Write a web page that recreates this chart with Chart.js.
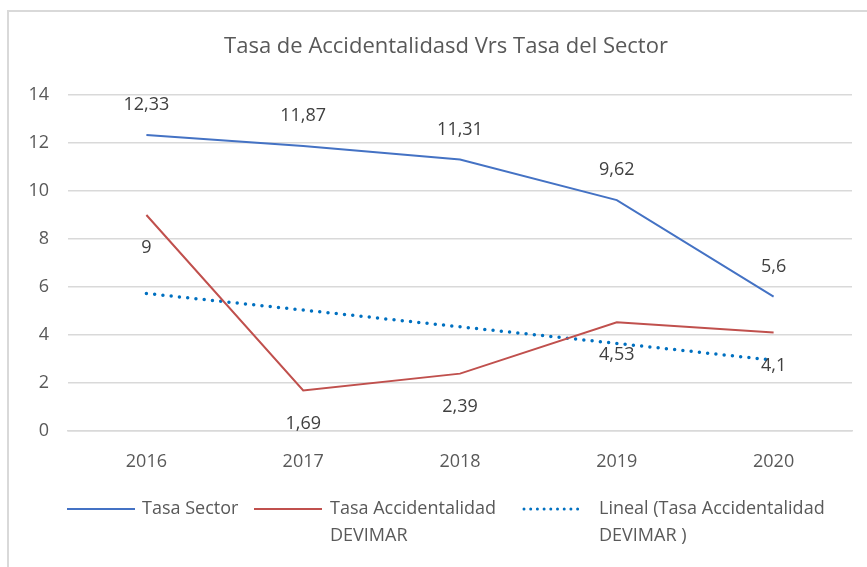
<!DOCTYPE html>
<html>
<head>
<meta charset="utf-8">
<script src="https://cdn.jsdelivr.net/npm/chart.js@4"></script>
<style>
  html, body { margin: 0; padding: 0; background: #fff; }
  #wrap { position: relative; width: 867px; height: 567px; }
</style>
</head>
<body>
<div id="wrap"><canvas id="chart" width="867" height="567"></canvas></div>
<script>
// Chart data
const years = ['2016', '2017', '2018', '2019', '2020'];
const tasaSector = [12.33, 11.87, 11.31, 9.62, 5.6];
const tasaDevimar = [9, 1.69, 2.39, 4.53, 4.1];
// linear trend as drawn in the picture
const linealDevimar = [5.73, 5.04, 4.34, 3.65, 2.95];
const yTicks = [0, 2, 4, 6, 8, 10, 12, 14];

const titleText = 'Tasa de Accidentalidasd Vrs Tasa del Sector';
const fontFam = '"Open Sans", "Noto Sans", sans-serif';

// Labels, title, frame and legend drawn on the canvas
const extras = {
    id: 'extras',
    afterDraw(chart) {
        const c = chart.ctx;
        const xs = chart.scales.x;
        const ys = chart.scales.y;
        c.save();

        // frame
        c.strokeStyle = '#d9d9d9';
        c.lineWidth = 2;
        c.strokeRect(8, 11, 880, 600);

        // title
        c.fillStyle = '#595959';
        c.font = '22px ' + fontFam;
        c.textAlign = 'center';
        c.textBaseline = 'middle';
        c.fillText(titleText, 446, 47);

        // data labels
        c.fillStyle = '#404040';
        c.font = '18px ' + fontFam;
        tasaSector.forEach((v, i) => {
            c.fillText(String(v).replace('.', ','), xs.getPixelForValue(i), ys.getPixelForValue(v) - 30);
        });
        tasaDevimar.forEach((v, i) => {
            c.fillText(String(v).replace('.', ','), xs.getPixelForValue(i), ys.getPixelForValue(v) + 33);
        });

        // legend
        c.textAlign = 'left';
        c.fillStyle = '#595959';
        c.font = '18px ' + fontFam;
        const ly = 509;
        c.lineWidth = 2;
        c.strokeStyle = '#4472c4';
        c.beginPath(); c.moveTo(67, ly); c.lineTo(135, ly); c.stroke();
        c.fillText('Tasa Sector', 142, ly);
        c.strokeStyle = '#c0504d';
        c.beginPath(); c.moveTo(254, ly); c.lineTo(322, ly); c.stroke();
        c.fillText('Tasa Accidentalidad', 330, ly);
        c.fillText('DEVIMAR', 330, ly + 27);
        c.strokeStyle = '#0070c0';
        c.lineWidth = 3;
        c.lineCap = 'round';
        c.setLineDash([0, 6.7]);
        c.beginPath(); c.moveTo(524, ly); c.lineTo(578, ly); c.stroke();
        c.setLineDash([]);
        c.fillText('Lineal (Tasa Accidentalidad', 599, ly);
        c.fillText('DEVIMAR )', 599, ly + 27);
        c.restore();
    }
};

const ctx = document.getElementById('chart').getContext('2d');
new Chart(ctx, {
    type: 'line',
    data: {
        labels: years,
        datasets: [
            {
                label: 'Tasa Sector',
                data: tasaSector,
                borderColor: '#4472c4',
                borderWidth: 2,
                pointRadius: 0,
                tension: 0
            },
            {
                label: 'Tasa Accidentalidad DEVIMAR',
                data: tasaDevimar,
                borderColor: '#c0504d',
                borderWidth: 2,
                pointRadius: 0,
                tension: 0
            },
            {
                label: 'Lineal (Tasa Accidentalidad DEVIMAR )',
                data: linealDevimar,
                borderColor: '#0070c0',
                borderWidth: 3.5,
                borderCapStyle: 'round',
                borderDash: [0, 8.3],
                pointRadius: 0,
                tension: 0
            }
        ]
    },
    options: {
        responsive: false,
        animation: false,
        layout: { padding: { left: 0, right: 15, top: 95, bottom: 96 } },
        plugins: {
            legend: { display: false },
            title: { display: false },
            tooltip: { enabled: false }
        },
        scales: {
            x: {
                offset: true,
                grid: { display: false },
                border: { color: '#d9d9d9', width: 1.5 },
                ticks: { color: '#595959', font: { family: fontFam, size: 18 }, padding: 12 },
                afterFit(scale) { scale.height = 40; }
            },
            y: {
                min: 0,
                max: 14,
                afterBuildTicks(scale) { scale.ticks = yTicks.map(v => ({ value: v })); },
                grid: { color: '#d9d9d9', lineWidth: 1.5, drawTicks: false },
                border: { display: false },
                ticks: { color: '#595959', font: { family: fontFam, size: 18 }, padding: 19 },
                afterFit(scale) { scale.width = 68; }
            }
        }
    },
    plugins: [extras]
});
</script>
</body>
</html>
